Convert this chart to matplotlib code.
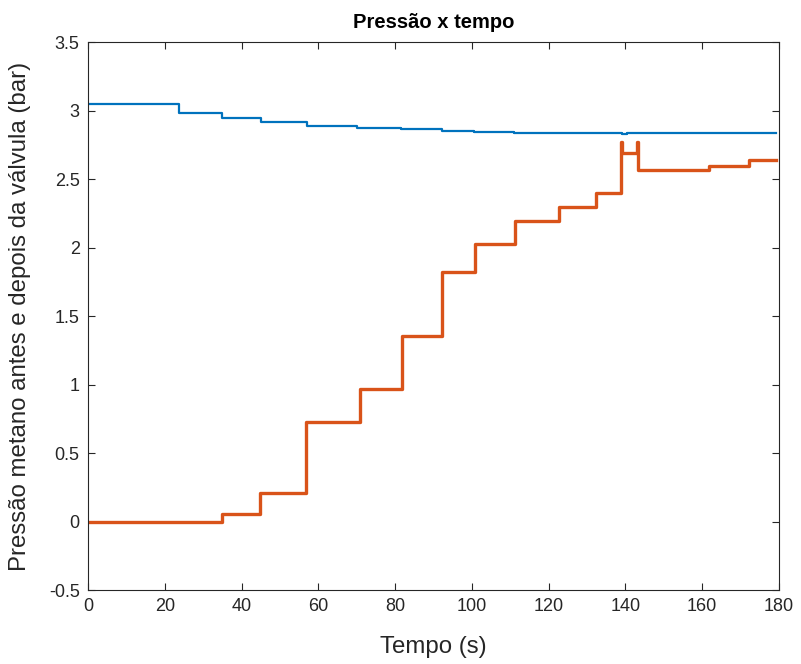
import matplotlib
matplotlib.use("Agg")
import matplotlib.pyplot as plt

# Pressão antes da válvula (azul) - instantes dos degraus e níveis
t_antes = [0, 23.6, 35.0, 45.0, 57.0, 70.2, 81.5, 92.2, 100.5, 111.0, 139.0, 140.5, 179.3]
p_antes = [3.047, 2.984, 2.943, 2.914, 2.887, 2.875, 2.863, 2.850, 2.843, 2.838, 2.828, 2.835, 2.835]

# Pressão depois da válvula (laranja)
t_depois = [0, 35.0, 44.7, 56.7, 70.8, 81.7, 92.3, 100.8, 111.3, 122.6, 132.3,
            138.9, 139.1, 143.0, 143.2, 161.9, 172.3, 179.3]
p_depois = [0.0, 0.055, 0.206, 0.728, 0.967, 1.354, 1.823, 2.023, 2.196, 2.298, 2.40,
            2.77, 2.69, 2.77, 2.566, 2.595, 2.64, 2.64]

plt.rcParams['font.family'] = ['Liberation Sans', 'DejaVu Sans']

fig = plt.figure(figsize=(8.01, 6.64), dpi=100)
ax = fig.add_axes([0.1099, 0.1114, 0.8626, 0.8253])

ax.step(t_antes, p_antes, where='post', color='#0072BD', linewidth=1.6)
ax.step(t_depois, p_depois, where='post', color='#D95319', linewidth=2.4)

ax.set_xlim(0, 180)
ax.set_ylim(-0.5, 3.5)
ax.set_xticks(range(0, 181, 20))
ax.set_yticks([-0.5, 0, 0.5, 1, 1.5, 2, 2.5, 3, 3.5])
ax.set_yticklabels(['-0.5', '0', '0.5', '1', '1.5', '2', '2.5', '3', '3.5'])

ax.tick_params(direction='in', top=True, right=True, length=5, width=0.8,
               labelsize=13, colors='#262626', pad=6)
for s in ax.spines.values():
    s.set_color('#262626')
    s.set_linewidth(0.8)

ax.set_title('Pressão x tempo', fontsize=14.5, fontweight='bold', color='black', pad=10)
ax.set_xlabel('Tempo (s)', fontsize=17.3, color='#262626')
ax.set_ylabel('Pressão metano antes e depois da válvula (bar)', fontsize=17.3, color='#262626')
ax.xaxis.set_label_coords(0.5, -0.084)
ax.yaxis.set_label_coords(-0.083, 0.5)

fig.savefig('out.png', dpi=100)
